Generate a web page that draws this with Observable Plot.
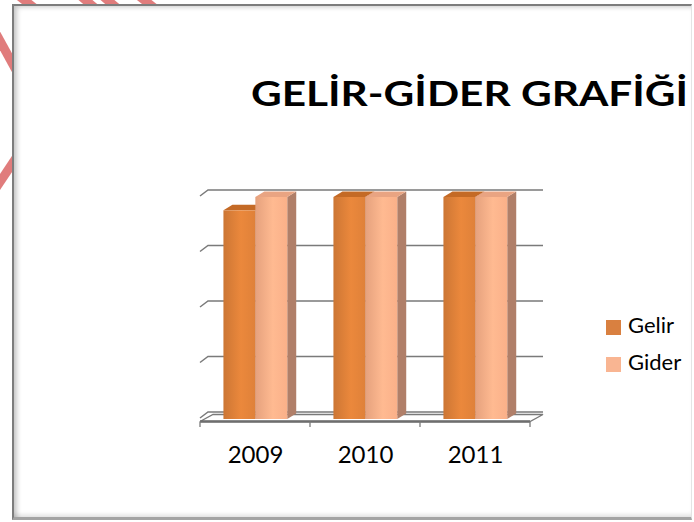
<!DOCTYPE html>
<html><head><meta charset="utf-8">
<script src="https://cdn.jsdelivr.net/npm/d3@7"></script>
<script src="https://cdn.jsdelivr.net/npm/@observablehq/plot@0.6"></script>
<style>
html,body{margin:0;padding:0;background:#fff;}
#wrap{position:relative;width:694px;height:522px;overflow:hidden;font-family:Lato,"Open Sans",sans-serif;}
#deco{position:absolute;left:0;top:0;}
#frame{position:absolute;left:12px;top:4px;width:677px;height:511px;border-left:2px solid #7d7d7d;border-top:2px solid #7d7d7d;border-right:1px solid #e4e4e4;border-bottom:3px solid #a3a3a3;background:#fff;box-shadow:inset 5px 3px 5px -2px rgba(0,0,0,0.22), inset 0 -5px 5px -3px rgba(0,0,0,0.14);}
#chart{position:absolute;left:0;top:0;}
#title{position:absolute;left:251px;top:76px;font-weight:700;font-size:34px;line-height:1;color:#000;white-space:nowrap;transform-origin:0 0;transform:scaleX(1.245);}
.lg{position:absolute;left:606px;font-size:22px;line-height:1;color:#000;white-space:nowrap;}
.lg span.sw{position:absolute;left:0;top:6px;width:15px;height:15px;}
.lg span.tx{position:absolute;left:22px;top:0;}
</style></head>
<body>
<div id="wrap">
  <svg id="deco" width="694" height="522"></svg>
  <div id="frame"></div>
  <div id="chart"></div>
  <div id="title">GELİR-GİDER GRAFİĞİ</div>
  <div id="legend"></div>
</div>
<script>
// ---- data ----
const years = ["2009", "2010", "2011"];
const series = ["Gelir", "Gider"];
const gelir = [94, 100, 100];
const gider = [100, 100, 100];
const yTicks = [0, 25, 50, 75, 100];
const frontColors = ["#df8139", "#fab089"];
const topColors = ["#c46a26", "#e9a482"];
const sideColors = ["#a86b45", "#b07f69"];
const legendColors = ["#d98040", "#f9b592"];

const rows = years.flatMap((yr, i) =>
  series.map((s, j) => ({year: yr, series: s, value: (j === 0 ? gelir : gider)[i]})));

// pseudo-3D geometry (pixels)
const depth = [9, -5.5];      // bar depth
const wall = [13, -7];        // back wall offset
const barStart = 0.213, barFrac = 0.29;

function bars3d(index, scales, values, dimensions) {
  const g = d3.create("svg:g");
  const defs = g.append("defs");
  series.forEach((s, j) => {
    const lg = defs.append("linearGradient").attr("id", "grad" + j).attr("x1", 0).attr("x2", 1).attr("y1", 0).attr("y2", 0);
    const c = d3.color(frontColors[j]);
    lg.append("stop").attr("offset", 0).attr("stop-color", c.darker(0.25));
    lg.append("stop").attr("offset", 0.55).attr("stop-color", c.brighter(0.15));
    lg.append("stop").attr("offset", 1).attr("stop-color", c);
  });
  const bw = scales.x.bandwidth();
  const [ddx, ddy] = depth;
  for (const i of index) {
    const d = rows[i];
    const j = series.indexOf(d.series);
    const x0 = scales.x(d.year) + bw * (barStart + j * barFrac);
    const x1 = x0 + bw * barFrac;
    const yb = scales.y(0), yt = scales.y(d.value);
    g.append("path").attr("d", `M${x1},${yb}L${x1 + ddx},${yb + ddy}L${x1 + ddx},${yt + ddy}L${x1},${yt}Z`)
      .attr("fill", sideColors[j]);
    g.append("path").attr("d", `M${x0},${yt}L${x0 + ddx},${yt + ddy}L${x1 + ddx},${yt + ddy}L${x1},${yt}Z`)
      .attr("fill", topColors[j]);
    g.append("rect").attr("x", x0).attr("y", yt).attr("width", x1 - x0).attr("height", yb - yt)
      .attr("fill", `url(#grad${j})`);
  }
  return g.node();
}

function walls3d(index, scales, values, dimensions) {
  const g = d3.create("svg:g").attr("fill", "none").attr("stroke", "#7a7a7a");
  const x0 = dimensions.marginLeft, x1 = dimensions.width - dimensions.marginRight;
  const [wx, wy] = wall;
  const y0 = scales.y(0);
  g.append("path").attr("d", `M${x0},${y0 + 2.5}L${x0 + wx},${y0 + 2.5 + wy}L${x1 + wx},${y0 + 2.5 + wy}L${x1},${y0 + 2.5}Z`)
    .attr("fill", "#fff").attr("stroke-width", 1.3);
  g.append("path").attr("d", `M${x0},${y0 + 2.5}L${x1},${y0 + 2.5}`).attr("stroke-width", 2.4).attr("stroke", "#6e6e6e");
  for (const i of index) {
    const yy = scales.y(yTicks[i]) + wy;
    g.append("path").attr("d", `M${x0},${yy + 6}L${x0 + 8},${yy}L${x1 + wx},${yy}`).attr("stroke-width", 1.5);
  }
  const bw = scales.x.bandwidth();
  const edges = years.map((yr) => scales.x(yr)).concat([scales.x(years[years.length - 1]) + bw]);
  for (const e of edges) {
    g.append("path").attr("d", `M${e},${y0 + 2.5}L${e},${y0 + 8}`).attr("stroke-width", 1.3);
  }
  return g.node();
}

const plot = Plot.plot({
  width: 694,
  height: 522,
  marginLeft: 200,
  marginRight: 164,
  marginTop: 197,
  marginBottom: 103,
  style: {background: "transparent", fontFamily: "Lato, 'Open Sans', sans-serif"},
  x: {type: "band", domain: years, padding: 0, axis: null, label: null},
  y: {domain: [0, 100], axis: null},
  marks: [
    Plot.ruleY(yTicks, {y: (d) => d, render: walls3d}),
    Plot.barY(rows, {x: "year", y1: 0, y2: "value", render: bars3d}),
    Plot.axisX({tickSize: 0, tickPadding: 26, fontSize: 24, fill: "#000", label: null})
  ]
});
document.getElementById("chart").appendChild(plot);

const legend = document.getElementById("legend");
series.forEach((s, j) => {
  const row = document.createElement("div");
  row.className = "lg";
  row.style.top = (313.5 + j * 37) + "px";
  row.innerHTML = `<span class="sw" style="background:${legendColors[j]}"></span><span class="tx">${s}</span>`;
  legend.appendChild(row);
});

const deco = d3.select("#deco");
const strokes = [[14, -8, 42, 14], [76, -8, 102, 14], [98, -8, 124, 14], [134, -8, 162, 14], [-6, 30, 16, 70], [-4, 188, 16, 158]];
strokes.forEach(([a, b, c, e]) => deco.append("line").attr("x1", a).attr("y1", b).attr("x2", c).attr("y2", e)
  .attr("stroke", "#e07c7c").attr("stroke-width", 9));
</script>
</body></html>
